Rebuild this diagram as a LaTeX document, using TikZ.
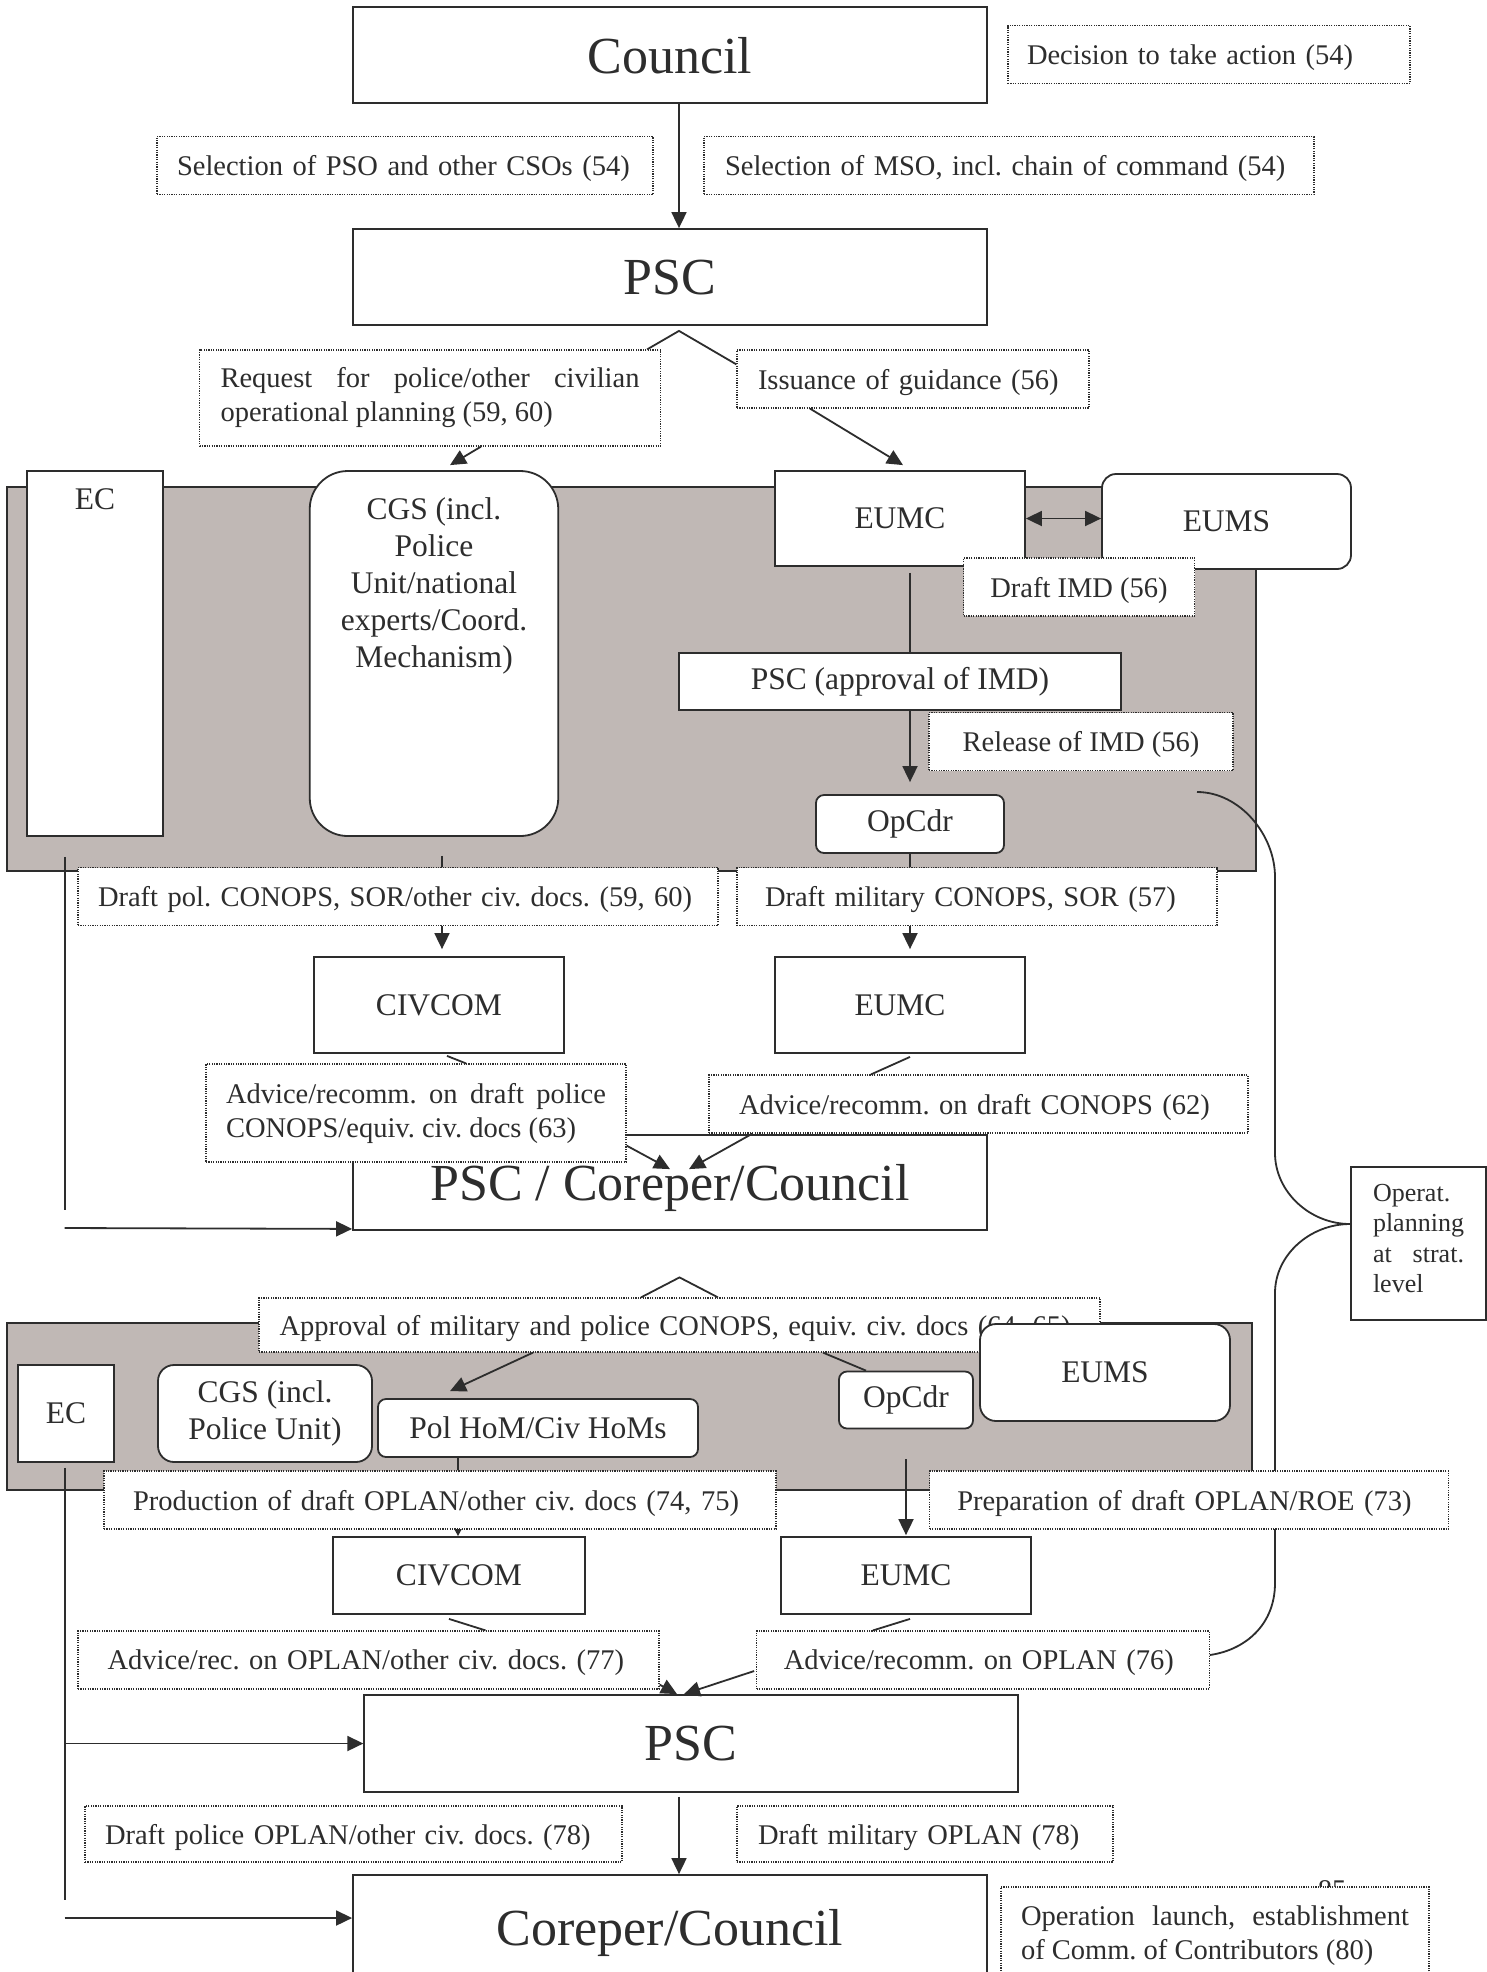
\documentclass[tikz,border=0pt]{standalone}
\usepackage{fontspec}
\setmainfont{Liberation Serif}
\usetikzlibrary{positioning,arrows.meta}
\definecolor{ink}{RGB}{45,45,45}
\definecolor{panelgray}{RGB}{192,184,181}
\frenchspacing

\begin{document}
\begin{tikzpicture}[
        x=0.5pt, y=-0.5pt,
        every node/.style={text=ink, inner sep=0pt},
        smallfont/.style={font=\fontsize{14.25}{17}\selectfont},
        midfont/.style={font=\fontsize{15.75}{18.5}\selectfont},
        bigfont/.style={font=\fontsize{26}{30}\selectfont},
        sidefont/.style={font=\fontsize{13}{15.3}\selectfont},
        orgbox/.style={draw=ink, fill=white, line width=0.9pt, align=center, midfont},
        roundbox/.style={orgbox, rounded corners=#1},
        bigbox/.style={orgbox, bigfont, text depth=0pt, minimum width=317pt, minimum height=48pt},
        notebox/.style={draw=ink, fill=white, line width=0.6pt, dash pattern=on 0.6pt off 0.6pt, smallfont, align=left, inner xsep=10pt, minimum height=29pt},
        flatnote/.style={notebox, text depth=0pt},
        panel/.style={draw=ink, fill=panelgray, line width=0.9pt},
        joinline/.style={draw=ink, line width=0.9pt},
        flow/.style={joinline, -{Triangle[length=8pt, width=7.5pt]}},
        biflow/.style={joinline, {Triangle[length=8pt, width=7.5pt]}-{Triangle[length=8pt, width=7.5pt]}},
        tinyflow/.style={joinline, -{Triangle[length=3.5pt, width=3.5pt]}}
    ]
    \clip (0,0) rectangle (1487,1972);
    \fill[white] (0,0) rectangle (1487,1972);

    \node[bigbox] (council) at (670,55) {Council};
    \node[bigbox] (psc) at (670,277) {PSC};
    \node[flatnote, text width=182pt, inner xsep=9.5pt] (decision) at (1209,54.5) {\mbox{Decision to take action (54)}};
    \node[flatnote, text width=228pt] (selpso) at (405,165.5) {\mbox{Selection of PSO and other CSOs (54)}};
    \node[flatnote, text width=284pt, inner xsep=10.5pt] (selmso) at (1009,165.5) {\mbox{Selection of MSO, incl. chain of command (54)}};
    \node[notebox, text width=209.5pt, inner xsep=10.5pt, minimum height=48pt, align=justify] (request) at (430,398) {Request for police/other civilian\linebreak operational planning (59, 60)};
    \node[flatnote, text width=155pt, inner xsep=10.5pt] (issuance) at (913,379) {\mbox{Issuance of guidance (56)}};

    \draw[panel] (7,487) rectangle (1256,871);
    \node[orgbox, minimum width=68pt, minimum height=182.5pt, label={[midfont, anchor=north, yshift=-9.25pt]north:EC}] (ec1) at (95,653.5) {};
    \node[roundbox=19pt, minimum width=124.25pt, minimum height=182.5pt, label={[midfont, align=center, anchor=north, yshift=-13.35pt]north:CGS (incl.\\Police\\Unit/national\\experts/Coord.\\Mechanism)}] (cgs1) at (434,653.5) {};
    \node[orgbox, minimum width=125pt, minimum height=47.5pt] (eumc1) at (900,518.5) {EUMC};
    \node[roundbox=7pt, minimum width=124.5pt, minimum height=47.5pt] (eums1) at (1226.5,521.5) {EUMS};
    \node[flatnote, minimum width=115.5pt, align=center, inner xsep=0pt] (draftimd) at (1079,587) {Draft IMD (56)};
    \node[orgbox, minimum width=221pt, minimum height=28.5pt] (pscimd) at (900,681.5) {PSC (approval of IMD)};
    \node[flatnote, minimum width=152pt, align=center, inner xsep=0pt] (release) at (1081,741.5) {Release of IMD (56)};
    \node[roundbox=4pt, minimum width=94pt, minimum height=29pt] (opcdr1) at (910,824) {OpCdr};
    \node[flatnote, text width=300pt] (draftpol) at (398,896.5) {\mbox{Draft pol. CONOPS, SOR/other civ. docs. (59, 60)}};
    \node[flatnote, text width=212pt, inner xsep=14pt] (draftmil) at (977,896.5) {\mbox{Draft military CONOPS, SOR (57)}};

    \node[orgbox, minimum width=125.25pt, minimum height=48pt] (civcom1) at (439,1005) {CIVCOM};
    \node[orgbox, minimum width=125pt, minimum height=48pt] (eumc2) at (900,1005) {EUMC};
    \node[bigbox, minimum height=47.5pt] (psccc) at (670,1182.5) {PSC / Coreper/Council};
    \node[notebox, text width=190pt, minimum height=49pt, align=justify] (adv63) at (416,1113) {Advice/recomm. on draft police\linebreak CONOPS/equiv. civ. docs (63)};
    \node[flatnote, text width=239.5pt, inner xsep=15pt] (adv62) at (978.5,1104) {\mbox{Advice/recomm. on draft CONOPS (62)}};
    \node[orgbox, minimum width=67.5pt, minimum height=76.5pt, label={[sidefont, text width=45.5pt, align=justify, anchor=center, yshift=2.5pt]center:Operat.\linebreak planning\linebreak at strat.\linebreak level}] (operat) at (1418.5,1243.5) {};

    \draw[panel] (7,1323) rectangle (1252,1490);
    \node[flatnote, text width=400pt, inner xsep=10.25pt, minimum height=27pt] (approval) at (679.5,1325) {\mbox{Approval of military and police CONOPS, equiv. civ. docs (64, 65)}};
    \node[orgbox, minimum width=48pt, minimum height=48.5pt] (ec2) at (66,1413.5) {EC};
    \node[roundbox=8pt, minimum width=107pt, minimum height=48.5pt] (cgs2) at (265,1413.5) {CGS (incl.\\Police Unit)};
    \node[roundbox=4pt, minimum width=160pt, minimum height=29pt] (polhom) at (538,1428) {Pol HoM/Civ HoMs};
    \node[roundbox=4pt, minimum width=67pt, minimum height=28.5pt] (opcdr2) at (906,1400) {OpCdr};
    \node[roundbox=8pt, minimum width=125pt, minimum height=48.5pt] (eums2) at (1105,1372.5) {EUMS};
    \node[flatnote, text width=307pt, inner xsep=14.5pt] (production) at (440,1500) {\mbox{Production of draft OPLAN/other civ. docs (74, 75)}};

    \node[orgbox, minimum width=125.75pt, minimum height=38.5pt] (civcom2) at (459,1575.5) {CIVCOM};
    \node[orgbox, minimum width=125pt, minimum height=38.5pt] (eumc3) at (906,1575.5) {EUMC};
    \node[flatnote, text width=260.9pt, inner xsep=14.8pt] (adv77) at (368.5,1660) {\mbox{Advice/rec. on OPLAN/other civ. docs. (77)}};
    \node[flatnote, text width=199.25pt, inner xsep=13.5pt] (adv76) at (983,1660) {\mbox{Advice/recomm. on OPLAN (76)}};
    \node[bigbox, minimum width=326.75pt, minimum height=48.5pt] (psc3) at (691,1743.5) {PSC};
    \node[flatnote, text width=248.5pt, minimum height=28pt] (polplan) at (353.5,1834) {\mbox{Draft police OPLAN/other civ. docs. (78)}};
    \node[flatnote, text width=167pt, inner xsep=10.5pt, minimum height=28pt] (milplan) at (925,1834) {\mbox{Draft military OPLAN (78)}};
    \node[bigbox, minimum height=52pt] (coreper) at (670,1927) {Coreper/Council};
    \node[smallfont] (pagenum) at (1332,1890) {85};
    \node[notebox, text width=194pt, minimum height=49pt, align=justify] (launch) at (1215,1936) {Operation launch, establishment\linebreak of Comm. of Contributors (80)};

    \draw[flow] ([xshift=4.5pt]council.south) -- ([xshift=4.5pt]psc.north);
    \draw[joinline] ([xshift=-7pt]request.north east) -- ([xshift=4.5pt, yshift=-2.5pt]psc.south) -- ([yshift=-7.5pt]issuance.north west);
    \draw[flow] ([xshift=25.5pt]request.south) -- ([xshift=8pt, yshift=2.5pt]cgs1.north);
    \draw[flow] ([xshift=-51.5pt]issuance.south) -- ([xshift=1.5pt, yshift=2.5pt]eumc1.north);
    \draw[biflow] (eumc1.east) -- (eumc1.east -| eums1.west);
    \draw[joinline] ([xshift=5pt, yshift=-3pt]eumc1.south) -- ([xshift=5pt]pscimd.north);
    \draw[flow] ([xshift=5pt]pscimd.south) -- ([yshift=6pt]opcdr1.north);
    \draw[joinline] (opcdr1.south) -- (opcdr1.south |- draftmil.north);
    \draw[flow] (opcdr1.south |- draftmil.south) -- ([xshift=5pt, yshift=3.5pt]eumc2.north);
    \draw[joinline] ([xshift=4pt, yshift=-9.5pt]cgs1.south) -- ([xshift=22pt]draftpol.north);
    \draw[flow] ([xshift=22pt]draftpol.south) -- ([xshift=1.5pt, yshift=3.5pt]civcom1.north);

    \coordinate (ecbendA) at (64.6,1210);
    \coordinate (ecfootA) at (64.6,1228);
    \draw[joinline] ([xshift=-15.2pt, yshift=-10pt]ec1.south) -- (ecbendA);
    \draw[flow] (ecfootA) -- ([yshift=1pt]psccc.south west);

    \draw[joinline] ([xshift=4pt, yshift=-1pt]civcom1.south) -- ([xshift=25pt]adv63.north);
    \draw[joinline] ([xshift=5pt, yshift=-1.5pt]eumc2.south) -- ([xshift=-53.75pt]adv62.north);
    \draw[flow] ([yshift=8.5pt]adv63.south east) -- ([yshift=-17.5pt]psccc.north);
    \draw[flow] ([xshift=22pt]adv62.south west) -- ([xshift=9.5pt, yshift=-17.5pt]psccc.north);

    \draw[joinline] ([xshift=-19.25pt]approval.north) -- ([yshift=10pt]approval.north) -- ([xshift=19.25pt]approval.north);
    \draw[flow] ([xshift=-73.25pt]approval.south) -- ([xshift=-44pt, yshift=3.5pt]polhom.north);
    \draw[joinline] ([xshift=71.75pt]approval.south) -- ([xshift=-20pt]opcdr2.north);
    \draw[joinline] ([xshift=-40pt]polhom.south) -- ([xshift=9pt]production.north);
    \draw[tinyflow] ([xshift=9pt]production.south) -- ([xshift=-0.5pt]civcom2.north);
    \draw[flow] ([yshift=-15pt]opcdr2.south) -- ([yshift=0.5pt]eumc3.north);

    \coordinate (ecbendB) at (64.6,1900);
    \coordinate (ecfootB) at (64.6,1918);
    \draw[joinline] ([xshift=-0.7pt, yshift=-2.5pt]ec2.south) -- (ecbendB);
    \draw[flow] (ecbendB |- psc3.west) -- (psc3.west);
    \draw[flow] (ecfootB) -- (ecfootB -| coreper.west);

    \draw[joinline] ([xshift=-5pt, yshift=-2pt]civcom2.south) -- ([xshift=58.5pt]adv77.north);
    \draw[joinline] ([xshift=2pt, yshift=-2pt]eumc3.south) -- ([xshift=-55pt]adv76.north);
    \draw[flow] ([yshift=2.5pt]adv77.south east) -- ([xshift=-7pt]psc3.north);
    \draw[flow] ([xshift=-1pt, yshift=-5.5pt]adv76.west) -- ([xshift=-3.5pt]psc3.north);
    \draw[flow] ([xshift=-6pt, yshift=-2pt]psc3.south) -- ([xshift=4.5pt]coreper.north);

    \coordinate (bracetop) at (1197,792);
    \draw[joinline] (bracetop) .. controls (1240,792) and (1275,835) .. (1275,877) -- (1275,1153)
        .. controls (1275,1192) and (1310,1224) .. ([yshift=9.75pt]operat.west)
        .. controls (1310,1224) and (1275,1255) .. (1275,1293) -- (1275,1583)
        .. controls (1275,1625) and (1245,1650) .. ([yshift=2.5pt]adv76.east);

    \node[flatnote, text width=231.75pt, inner xsep=13.75pt] (preparation) at (1189,1500) {\mbox{Preparation of draft OPLAN/ROE (73)}};
\end{tikzpicture}
\end{document}
